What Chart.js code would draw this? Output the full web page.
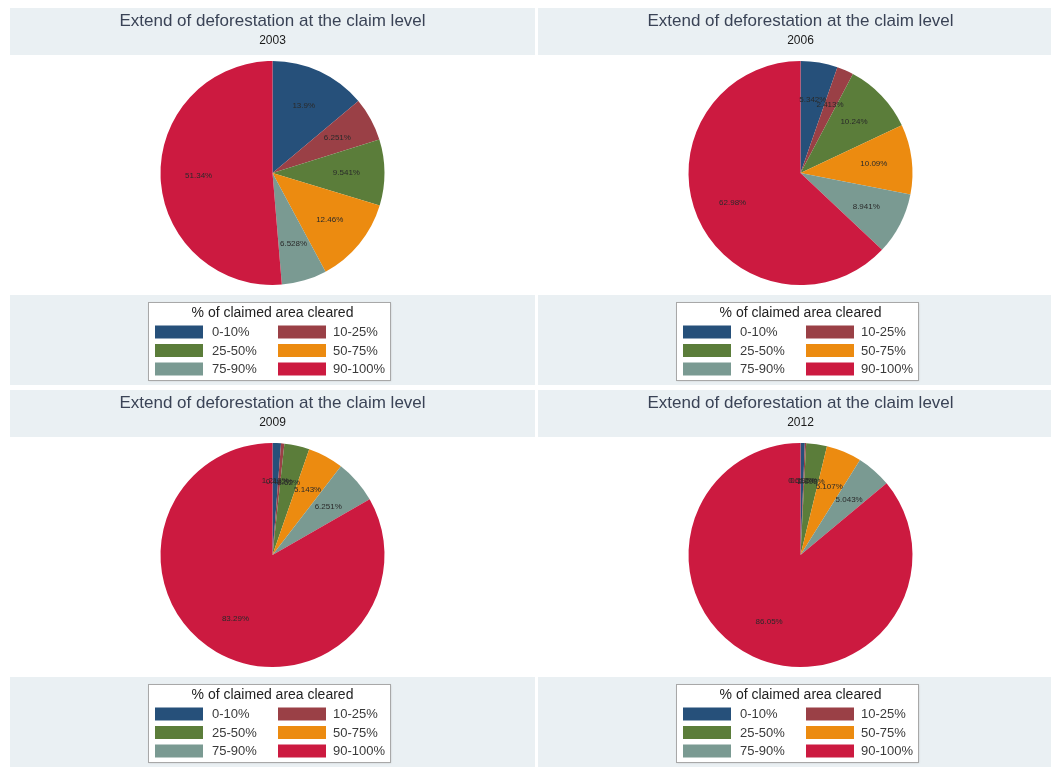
<!DOCTYPE html>
<html>
<head>
<meta charset="utf-8">
<script src="https://cdn.jsdelivr.net/npm/chart.js@4/dist/chart.umd.min.js"></script>
<style>
  html, body { margin:0; padding:0; background:#ffffff; width:1051px; height:767px; overflow:hidden; }
  .panel { position:absolute; width:525px; height:377px; }
</style>
</head>
<body>
<div class="panel" style="left:10px; top:8px;"><canvas id="c0"></canvas></div>
<div class="panel" style="left:538px; top:8px;"><canvas id="c1"></canvas></div>
<div class="panel" style="left:10px; top:390px;"><canvas id="c2"></canvas></div>
<div class="panel" style="left:538px; top:390px;"><canvas id="c3"></canvas></div>
<script>
// ---- data ----
const categories = ['0-10%', '10-25%', '25-50%', '50-75%', '75-90%', '90-100%'];
const years = ['2003', '2006', '2009', '2012'];
const share2003 = [13.9, 6.251, 9.541, 12.46, 6.528, 51.34];
const share2006 = [5.342, 2.413, 10.24, 10.09, 8.941, 62.98];
const share2009 = [1.213, 0.482, 3.62, 5.143, 6.251, 83.29];
const share2012 = [0.612, 0.195, 2.993, 5.107, 5.043, 86.05];
const chartTitle = 'Extend of deforestation at the claim level';
const legendTitle = '% of claimed area cleared';

const sliceColors = ['#26507a', '#9a4046', '#5b7d3a', '#ec8b10', '#7a9a92', '#cc1a40'];
const FONT = '"Liberation Sans", Arial, sans-serif';

const stataPlugin = {
  id: 'stataPanel',
  beforeDraw(chart) {
    const { ctx, width, height } = chart;
    ctx.save();
    ctx.fillStyle = '#eaf0f3';
    ctx.fillRect(0, 0, width, height);
    ctx.fillStyle = '#ffffff';
    ctx.fillRect(0, 47, width, 240);
    ctx.restore();
  },
  afterDatasetsDraw(chart) {
    const { ctx } = chart;
    const meta = chart.getDatasetMeta(0);
    const values = chart.data.datasets[0].data;
    ctx.save();
    ctx.font = '8px ' + FONT;
    ctx.fillStyle = '#2a2a2a';
    ctx.textAlign = 'center';
    ctx.textBaseline = 'middle';
    meta.data.forEach((arc, i) => {
      const p = arc.getProps(['x', 'y', 'startAngle', 'endAngle', 'outerRadius'], true);
      const mid = (p.startAngle + p.endAngle) / 2;
      const r = p.outerRadius * 0.66;
      const txt = Number(values[i].toPrecision(4)).toString() + '%';
      ctx.fillText(txt, p.x + Math.cos(mid) * r, p.y + Math.sin(mid) * r);
    });
    ctx.restore();
  },
  afterDraw(chart) {
    const { ctx, width } = chart;
    const cx = width / 2;
    const items = Chart.overrides.pie.plugins.legend.labels.generateLabels(chart);
    ctx.save();
    const bx = Math.round(cx - 124.5) + 0.5, by = 294.5, bw = 242, bh = 78;
    ctx.shadowColor = 'rgba(0,0,0,0.15)';
    ctx.shadowBlur = 2;
    ctx.fillStyle = '#ffffff';
    ctx.fillRect(bx, by, bw, bh);
    ctx.shadowColor = 'transparent';
    ctx.strokeStyle = '#a8a8a8';
    ctx.lineWidth = 1;
    ctx.strokeRect(bx, by, bw, bh);
    ctx.fillStyle = '#222222';
    ctx.textAlign = 'center';
    ctx.textBaseline = 'middle';
    ctx.font = '14px ' + FONT;
    ctx.fillText(legendTitle, cx, 305);
    ctx.font = '13px ' + FONT;
    ctx.textAlign = 'left';
    const rowsY = [324, 342.5, 361];
    items.forEach((it, i) => {
      const col = i % 2, row = Math.floor(i / 2);
      const sx = cx + (col === 0 ? -117.5 : 5.5);
      const tx = cx + (col === 0 ? -60.5 : 60.5);
      const y = rowsY[row];
      ctx.fillStyle = it.fillStyle;
      ctx.fillRect(sx, y - 6.5, 48, 13);
      ctx.fillStyle = '#3a3a3a';
      ctx.fillText(it.text, tx, y + 0.5);
    });
    ctx.restore();
  }
};

const allShares = [share2003, share2006, share2009, share2012];
allShares.forEach((vals, k) => {
  new Chart(document.getElementById('c' + k), {
    type: 'pie',
    data: {
      labels: categories,
      datasets: [{
        data: vals,
        backgroundColor: sliceColors,
        borderWidth: 0
      }]
    },
    options: {
      responsive: true,
      maintainAspectRatio: false,
      animation: false,
      events: [],
      layout: { padding: { top: 0, bottom: 100, left: 0, right: 0 } },
      plugins: {
        legend: { display: false },
        tooltip: { enabled: false },
        title: {
          display: true,
          text: chartTitle,
          color: '#3a4356',
          font: { family: FONT, size: 17, weight: 'normal', lineHeight: 1.2 },
          padding: { top: 3, bottom: 2.5 }
        },
        subtitle: {
          display: true,
          text: years[k],
          color: '#1a1a1a',
          font: { family: FONT, size: 12, weight: 'normal', lineHeight: 1.2 },
          padding: { top: 0, bottom: 12.7 }
        }
      }
    },
    plugins: [stataPlugin]
  });
});
</script>
</body>
</html>
